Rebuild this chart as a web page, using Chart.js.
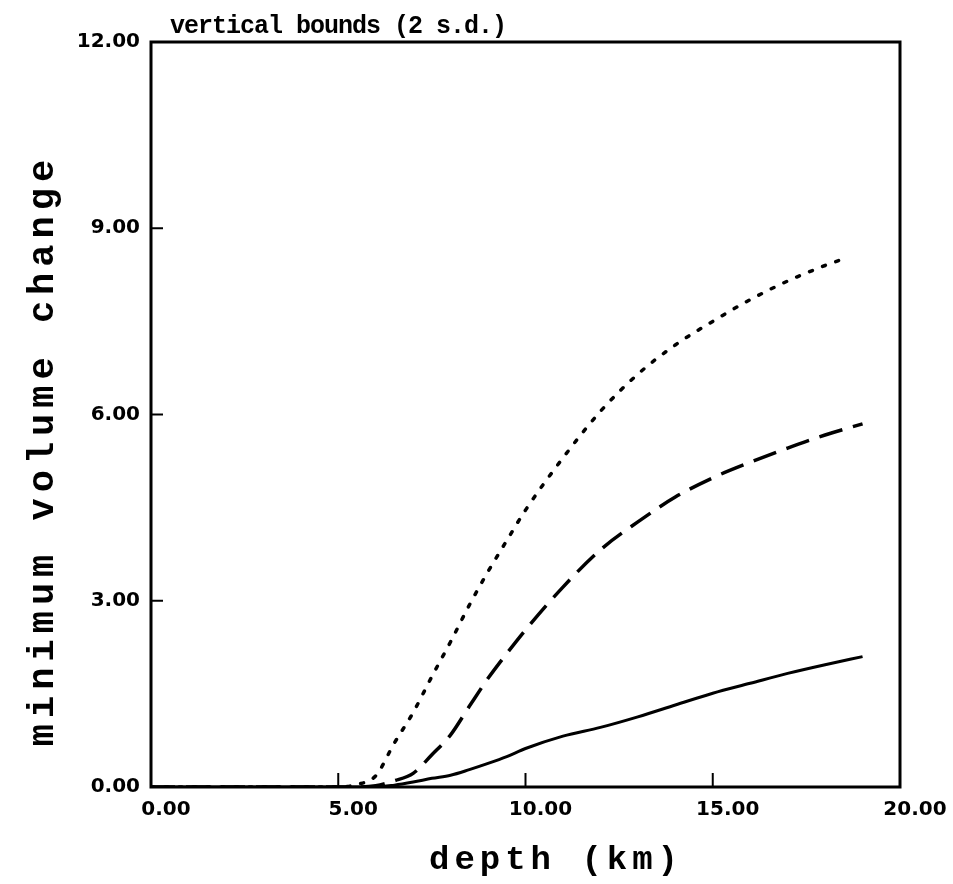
<!DOCTYPE html>
<html>
<head>
<meta charset="utf-8">
<title>vertical bounds</title>
<script src="https://cdn.jsdelivr.net/npm/chart.js@4.4.1/dist/chart.umd.min.js"></script>
<style>
  html, body { margin: 0; padding: 0; background: #fff; }
  canvas { display: block; }
</style>
</head>
<body>
<canvas id="grafica" width="953" height="884"></canvas>
<script>
// depth (km) sample points and the three bound curves
const profundidad = [0, 1, 2, 3, 4, 5, 5.5, 6, 6.5, 7, 7.5, 8, 8.5, 9, 9.5, 10, 11, 12, 13, 14, 15, 16, 17, 18, 19];
const limiteInferior = [0, 0, 0, 0, 0, 0, 0, 0, 0.03, 0.08, 0.14, 0.19, 0.28, 0.38, 0.49, 0.62, 0.82, 0.96, 1.13, 1.32, 1.51, 1.67, 1.83, 1.97, 2.1];
const limiteMedio = [0, 0, 0, 0, 0, 0, 0, 0.02, 0.1, 0.22, 0.52, 0.84, 1.3, 1.75, 2.15, 2.53, 3.22, 3.82, 4.27, 4.67, 4.98, 5.23, 5.46, 5.67, 5.85];
const profundidadSup = [0, 1, 2, 3, 4, 5, 5.5, 6, 6.5, 7, 7.5, 8, 8.5, 9, 9.5, 10, 11, 12, 13, 14, 15, 16, 17, 18, 18.6];
const limiteSuperior = [0, 0, 0, 0, 0, 0, 0.04, 0.18, 0.71, 1.2, 1.78, 2.34, 2.93, 3.47, 3.97, 4.46, 5.3, 6.05, 6.65, 7.12, 7.5, 7.85, 8.15, 8.4, 8.53];

const ticksX = [0, 5, 10, 15, 20];
const ticksY = [0, 3, 6, 9, 12];

const titulo = 'vertical bounds (2 s.d.)';
const tituloX = 'depth (km)';
const tituloY = 'minimum volume change';

const puntos = (xs, ys) => xs.map((x, i) => ({ x: x, y: ys[i] }));

const fuenteTicks = { family: 'DejaVu Sans', size: 20, weight: 'bold' };

// box round the plot, inward tick marks and the text labels
const marco = {
  id: 'marco',
  afterDraw(chart) {
    const { ctx, chartArea: a, scales } = chart;
    ctx.save();
    ctx.strokeStyle = '#000';
    ctx.lineWidth = 3;
    ctx.strokeRect(a.left, a.top, a.right - a.left, a.bottom - a.top);

    ctx.lineWidth = 2;
    ticksX.slice(1, -1).forEach(v => {
      const px = scales.x.getPixelForValue(v);
      ctx.beginPath();
      ctx.moveTo(px, a.bottom);
      ctx.lineTo(px, a.bottom - 14);
      ctx.stroke();
    });
    ticksY.slice(1, -1).forEach(v => {
      const py = scales.y.getPixelForValue(v);
      ctx.beginPath();
      ctx.moveTo(a.left, py);
      ctx.lineTo(a.left + 12, py);
      ctx.stroke();
    });

    ctx.fillStyle = '#000';
    ctx.textBaseline = 'alphabetic';

    ctx.font = 'bold 25px "Liberation Mono"';
    ctx.letterSpacing = '-1px';
    ctx.textAlign = 'left';
    ctx.fillText(titulo, 170, 33);

    ctx.font = 'bold 34px "Liberation Mono"';
    ctx.letterSpacing = '5px';
    ctx.textAlign = 'center';
    ctx.fillText(tituloX, 556, 869);

    ctx.translate(53, 450);
    ctx.rotate(-Math.PI / 2);
    ctx.font = 'bold 37px "Liberation Mono"';
    ctx.letterSpacing = '6px';
    ctx.fillText(tituloY, 0, 0);
    ctx.restore();
  }
};

const ctx = document.getElementById('grafica').getContext('2d');
const chart = new Chart(ctx, {
  type: 'line',
  data: {
    datasets: [
      {
        label: 'lower',
        data: puntos(profundidad, limiteInferior),
        borderColor: '#000',
        borderWidth: 3,
        pointRadius: 0,
        cubicInterpolationMode: 'monotone'
      },
      {
        label: 'middle',
        data: puntos(profundidad, limiteMedio),
        borderColor: '#000',
        borderWidth: 3.5,
        borderDash: [24, 11],
        pointRadius: 0,
        cubicInterpolationMode: 'monotone'
      },
      {
        label: 'upper',
        data: puntos(profundidadSup, limiteSuperior),
        borderColor: '#000',
        borderWidth: 3.5,
        borderDash: [3, 11],
        borderCapStyle: 'round',
        pointRadius: 0,
        cubicInterpolationMode: 'monotone'
      }
    ]
  },
  options: {
    responsive: false,
    animation: false,
    layout: { padding: { left: 0, right: 53, top: 42, bottom: 0 } },
    plugins: {
      legend: { display: false },
      tooltip: { enabled: false }
    },
    scales: {
      x: {
        type: 'linear',
        min: 0,
        max: 20,
        afterFit: s => { s.height = 97; },
        afterBuildTicks: s => { s.ticks = ticksX.map(v => ({ value: v })); },
        grid: { display: false, drawTicks: false },
        border: { display: false },
        ticks: {
          color: '#000',
          font: fuenteTicks,
          padding: 11,
          labelOffset: 15,
          maxRotation: 0,
          callback: v => v.toFixed(2)
        }
      },
      y: {
        min: 0,
        max: 12,
        afterFit: s => { s.width = 151; },
        afterBuildTicks: s => { s.ticks = ticksY.map(v => ({ value: v })); },
        grid: { display: false, drawTicks: false },
        border: { display: false },
        ticks: {
          color: '#000',
          font: fuenteTicks,
          padding: 11,
          callback: v => v.toFixed(2)
        }
      }
    }
  },
  plugins: [marco]
});
</script>
</body>
</html>
